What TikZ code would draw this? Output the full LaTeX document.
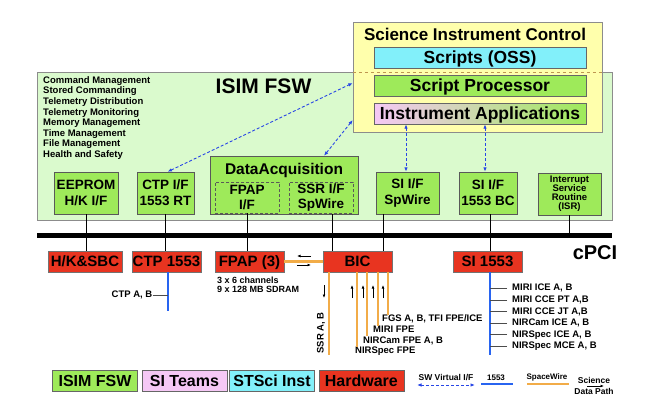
\documentclass[tikz,border=0pt]{standalone}
\usepackage{fontspec}
\setmainfont{Liberation Sans}
\usepackage{tikz}
\usetikzlibrary{positioning}
\usetikzlibrary{arrows.meta}
\definecolor{fswbg}{RGB}{218,250,205}
\definecolor{fswgreen}{RGB}{158,234,90}
\definecolor{sicyellow}{RGB}{255,255,172}
\definecolor{ossblue}{RGB}{130,240,250}
\definecolor{hwred}{RGB}{232,52,32}
\definecolor{teampink}{RGB}{245,200,245}
\definecolor{swblue}{RGB}{40,70,230}
\definecolor{milblue}{RGB}{40,100,240}
\definecolor{spworange}{RGB}{242,172,72}
\definecolor{dashbrown}{RGB}{190,150,80}
\tikzset{tips=proper}
\tikzset{%
    fswarea/.style={draw=black!45, fill=fswbg, inner sep=0pt},
    fswbox/.style={draw=black!65, fill=fswgreen, inner sep=0pt, align=center, font=\bfseries\fontsize{13.5}{16}\selectfont},
    subbox/.style={draw=black!65, densely dashed, inner sep=0pt, align=center, font=\bfseries\fontsize{13.5}{15.5}\selectfont},
    hwbox/.style={draw=black!55, fill=hwred, inner sep=0pt, minimum width=69pt, minimum height=21pt, text height=10.8pt, text depth=0pt, font=\bfseries\fontsize{15}{15}\selectfont},
    sicbar/.style={draw=black!60, inner sep=0pt, minimum width=212pt, minimum height=21pt, text height=12.5pt, text depth=0pt, font=\bfseries\fontsize{17.5}{17.5}\selectfont},
    keybox/.style={draw=black!60, inner sep=0pt, minimum width=85pt, minimum height=21pt, text height=11.5pt, text depth=0pt, font=\bfseries\fontsize{16}{16}\selectfont},
    note/.style={inner sep=0pt, font=\bfseries\fontsize{9.5}{10.6}\selectfont},
    keynote/.style={inner sep=0pt, font=\bfseries\fontsize{8.5}{8.5}\selectfont},
    swlink/.style={draw=swblue, densely dashed, line width=0.9pt, {Latex[length=4.5pt,width=3.5pt]}-{Latex[length=4.5pt,width=3.5pt]}},
    milbus/.style={draw=milblue, line width=2.2pt},
    spwire/.style={draw=spworange, line width=2.6pt},
    wire/.style={draw=black, line width=0.8pt},
    tick/.style={draw=black!70, line width=0.6pt},
    dataflow/.style={draw=black, line width=0.7pt, -{Latex[length=3.5pt,width=2.8pt]}}
}
\begin{document}
\begin{tikzpicture}[x=1pt, y=-1pt]
    \useasboundingbox (0,0) rectangle (650,412);

    \node[fswarea, anchor=north west, minimum width=575pt, minimum height=147.5pt] (fswarea) at (37,72) {};
    \node[inner sep=0pt, text height=15pt, text depth=0pt, font=\bfseries\fontsize{21}{21}\selectfont] (fswtitle) at (263.5,86) {ISIM FSW};
    \node[note, anchor=west, align=left] (funclist) at (43,118) {Command Management\\Stored Commanding\\Telemetry Distribution\\Telemetry Monitoring\\Memory Management\\Time Management\\File Management\\Health and Safety};

    \node[draw=black!45, fill=sicyellow, minimum width=249pt, minimum height=110pt, inner sep=0pt] (sic) at (477.5,77) {};
    \node[inner sep=0pt, text height=12.2pt, text depth=0pt, font=\bfseries\fontsize{17}{17}\selectfont] (sictitle) at (475,34) {Science Instrument Control};
    \node[sicbar, fill=ossblue] (oss) at (480,57.5) {Scripts (OSS)};
    \draw[dashbrown, dashed, line width=0.8pt] (sic.west |- fswarea.north) -- (sic.east |- fswarea.north);
    \node[sicbar, fill=fswgreen] (scriptproc) at (480,85.5) {Script Processor};
    \node[sicbar, left color=teampink, right color=fswgreen] (instapp) at (480,113.5) {Instrument Applications};

    \node[fswbox, minimum width=64pt, minimum height=42pt] (eeprom) at (86,193) {EEPROM\\H/K I/F};
    \node[fswbox, minimum width=57pt, minimum height=42pt] (ctpif) at (165.5,193) {CTP I/F\\1553 RT};
    \node[fswbox, minimum width=148pt, minimum height=58pt] (daq) at (284,185) {};
    \node[inner sep=0pt, text height=11pt, text depth=0pt, font=\bfseries\fontsize{15.5}{15.5}\selectfont] (daqtitle) at (284,169) {DataAcquisition};
    \node[subbox, minimum width=64pt, minimum height=31pt] (fpapif) at (247,197.5) {FPAP\\I/F};
    \node[subbox, minimum width=64pt, minimum height=31pt] (ssrif) at (321,197.5) {SSR I/F\\SpWire};
    \node[fswbox, minimum width=63pt, minimum height=42pt] (sispw) at (407.5,193) {SI I/F\\SpWire};
    \node[fswbox, minimum width=58pt, minimum height=42pt] (si1553bc) at (488,193) {SI I/F\\1553 BC};
    \node[fswbox, minimum width=63pt, minimum height=42pt, font=\bfseries\fontsize{9.5}{9}\selectfont] (isr) at (569.5,194) {Interrupt\\Service\\Routine\\(ISR)};

    \node[hwbox, minimum width=74pt] (hksbc) at (85,261.5) {H/K\&SBC};
    \node[hwbox] (ctp1553) at (166.5,261.5) {CTP 1553};
    \node[hwbox] (fpap3) at (249.5,261.5) {FPAP (3)};
    \node[hwbox] (bic) at (357.5,261.5) {BIC};
    \node[hwbox] (si1553) at (487.5,261.5) {SI 1553};

    \coordinate (busw) at (37,235);
    \coordinate (buse) at (612,235);
    \draw[wire] (eeprom.south) -- (eeprom.south |- hksbc.north);
    \draw[wire] (ctpif.south) -- (ctpif.south |- ctp1553.north);
    \draw[wire] (fpapif.south) -- (fpapif.south |- fpap3.north);
    \draw[wire] ([xshift=11pt]daq.south -| ssrif.south) -- ([xshift=11pt]ssrif.south |- bic.north);
    \draw[wire] ([xshift=-24.5pt]sispw.south) -- ([xshift=-24.5pt]sispw.south |- bic.north);
    \draw[wire] ([xshift=2pt]si1553bc.south) -- ([xshift=2pt]si1553bc.south |- si1553.north);
    \draw[wire] (isr.south) -- (isr.south |- busw);
    \draw[line width=5pt] (busw) -- (buse);
    \node[inner sep=0pt, text height=14.3pt, text depth=0pt, font=\bfseries\fontsize{20}{20}\selectfont] (cpci) at (595,252) {cPCI};

    \coordinate (ctpa) at ([xshift=2pt]ctpif.north);
    \coordinate (spwa) at ([xshift=-1.5pt]sispw.north);
    \coordinate (bca) at ([xshift=-3pt]si1553bc.north);
    \draw[swlink] (ctpa) -- ([yshift=-6pt]sic.west);
    \draw[swlink] ([xshift=40pt]daq.north) -- ([yshift=-43pt]sic.west);
    \draw[swlink] (spwa |- instapp.south) -- (spwa);
    \draw[swlink] (bca |- instapp.south) -- (bca);

    \coordinate (ctpend) at (168,311);
    \draw[milbus] (ctp1553.south -| ctpend) -- (ctpend);
    \node[note, anchor=east] (ctpab) at (152.5,295) {CTP A, B};
    \draw[tick] (ctpab.east) -- (ctpab.east -| ctpend);

    \coordinate (siend) at (490,355);
    \draw[milbus] (si1553.south -| siend) -- (siend);
    \foreach \lab [count=\i] in {{MIRI ICE A, B}, {MIRI CCE PT A,B}, {MIRI CCE JT A,B}, {NIRCam ICE A, B}, {NIRSpec ICE A, B}, {NIRSpec MCE A, B}} {
        \node[note, anchor=west] (silab\i) at (512,276.7+11.6*\i) {\lab};
        \draw[tick] ([xshift=-5pt]silab\i.west) -- (silab\i.west -| siend);
    }

    \draw[spwire] (fpap3.east) -- (bic.west);
    \coordinate (fpapmid) at (304,261);
    \draw[dataflow] ([shift={(7,-5)}]fpapmid) -- ++(-14,0);
    \draw[dataflow] ([shift={(-7,4)}]fpapmid) -- ++(14,0);
    \node[note, anchor=west, align=left, font=\bfseries\fontsize{9}{9.4}\selectfont] (fpapmem) at (217,285) {3 x 6 channels\\9 x 128 MB SDRAM};

    \coordinate (ssrend) at (329,355);
    \draw[spwire] (bic.south -| ssrend) -- (ssrend);
    \coordinate (ssrflow) at (324,285);
    \draw[dataflow] (ssrflow) -- ++(0,13);
    \node[note, rotate=90] (ssrab) at (321,333) {SSR A, B};
    \foreach \x/\lx/\ly/\lab [count=\i] in {388/382/319/{FGS A, B, TFI FPE/ICE}, 378/373/329.5/{MIRI FPE}, 367/363/340.5/{NIRCam FPE A, B}, 357/355/351.5/{NIRSpec FPE}} {
        \node[note, anchor=west] (instlab\i) at (\lx,\ly) {\lab};
        \draw[spwire] (bic.south -| \x,0) -- (\x,0 |- instlab\i.north);
    }
    \foreach \x in {352,363,373,383}
        \draw[dataflow] (\x,298) -- ++(0,-13);

    \node[keybox, fill=fswgreen] (keyfsw) at (95,380.5) {ISIM FSW};
    \node[keybox, fill=teampink] (keyteam) at (184.4,380.5) {SI Teams};
    \node[keybox, fill=ossblue] (keystsci) at (272,380.5) {STSci Inst};
    \node[keybox, fill=hwred] (keyhw) at (361.4,380.5) {Hardware};

    \node[keynote] (keysw) at (446,377.5) {SW Virtual I/F};
    \coordinate (keyswa) at (417,385);
    \coordinate (keyswb) at (475,385);
    \draw[swlink] (keyswa) -- (keyswb);
    \node[keynote, font=\bfseries\fontsize{8}{8}\selectfont] (key1553) at (496,377.5) {1553};
    \coordinate (keymila) at (481,384);
    \coordinate (keymilb) at (513,384);
    \draw[milbus] (keymila) -- (keymilb);
    \node[keynote, font=\bfseries\fontsize{8}{8}\selectfont] (keyspw) at (547,377) {SpaceWire};
    \coordinate (keyspwa) at (527,384);
    \coordinate (keyspwb) at (569,384);
    \draw[spwire] (keyspwa) -- (keyspwb);
    \node[keynote] (keysci) at (594,380.5) {Science};
    \node[keynote] (keypath) at (594,391) {Data Path};
    \coordinate (keyflow) at (587,386);
    \draw[dataflow] (keyflow) -- ++(17,0);
\end{tikzpicture}
\end{document}
